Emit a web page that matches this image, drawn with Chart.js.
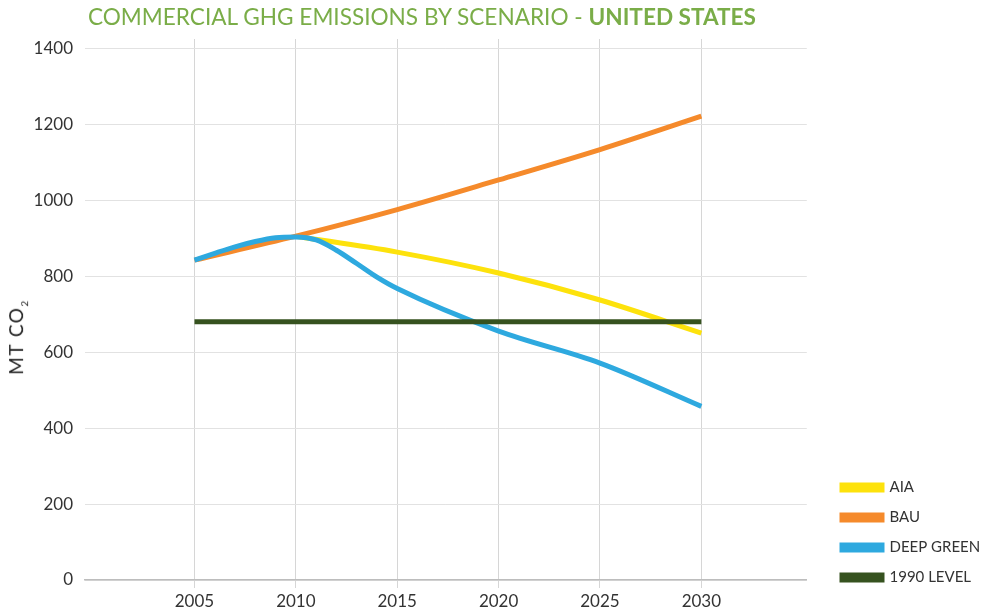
<!DOCTYPE html>
<html lang="en">
<head>
    <meta charset="UTF-8">
    <title>Commercial GHG Emissions by Scenario</title>
    <style>
        body {
            margin: 0;
            background: #fff;
            font-family: Lato, Arial, sans-serif;
        }
        #wrap {
            position: relative;
            width: 991px;
            height: 612px;
        }
        #title {
            position: absolute;
            left: 88px;
            top: 3px;
            font-size: 22.6px;
            color: #7aad48;
            white-space: nowrap;
        }
        #title b {
            font-weight: 700;
        }
        #ytitle {
            position: absolute;
            left: 17px;
            top: 337px;
            transform: translate(-50%, -50%) rotate(-90deg);
            font-size: 19px;
            letter-spacing: 1.5px;
            color: #222;
            white-space: nowrap;
        }
        #ytitle sub {
            font-size: 10px;
        }
        canvas {
            position: absolute;
            left: 0;
            top: 0;
        }
    </style>
</head>
<body>
    <div id="wrap">
        <canvas id="myChart" width="991" height="612"></canvas>
        <div id="title">COMMERCIAL GHG EMISSIONS BY SCENARIO - <b>UNITED STATES</b></div>
        <div id="ytitle">MT CO<sub>2</sub></div>
    </div>

    <script src="https://cdn.jsdelivr.net/npm/chart.js"></script>
    <script>
        // values (MT CO2)
        const xTicks = [2005, 2010, 2015, 2020, 2025, 2030];
        const yTicks = [0, 200, 400, 600, 800, 1000, 1200, 1400];

        const aiaYears = [2010, 2015, 2020, 2025, 2030];
        const aiaValues = [905, 863, 808, 737, 650];

        const bauYears = [2005, 2010, 2015, 2020, 2025, 2030];
        const bauValues = [842, 905, 975, 1053, 1133, 1221];

        const greenYears = [2005, 2006, 2007, 2008, 2009, 2010, 2011, 2012, 2013, 2014, 2015, 2020, 2025, 2030];
        const greenValues = [842, 860, 877, 891, 901, 903, 895, 868, 833, 797, 767, 655, 571, 457];

        const levelYears = [2005, 2030];
        const levelValues = [680, 680];

        function points(xs, ys) {
            return xs.map((x, i) => ({ x: x, y: ys[i] }));
        }

        function line(label, xs, ys, color, order) {
            return {
                label: label,
                data: points(xs, ys),
                borderColor: color,
                backgroundColor: color,
                borderWidth: 5,
                pointRadius: 0,
                tension: 0.4,
                cubicInterpolationMode: 'monotone',
                fill: false,
                order: order
            };
        }

        // move the legend block to where it sits in the original
        const legendShift = {
            id: 'legendShift',
            afterLayout(chart) {
                const lg = chart.legend;
                const w = lg.right - lg.left;
                lg.left = 827;
                lg.right = lg.left + w;
                lg.top += 20;
                lg.bottom += 20;
            }
        };

        const ctx = document.getElementById('myChart').getContext('2d');
        const myChart = new Chart(ctx, {
            type: 'line',
            data: {
                datasets: [
                    line('AIA', aiaYears, aiaValues, '#fde20c', 4),
                    line('BAU', bauYears, bauValues, '#f58a2b', 3),
                    line('DEEP GREEN', greenYears, greenValues, '#2ea9df', 2),
                    line('1990 LEVEL', levelYears, levelValues, '#36521f', 1)
                ]
            },
            plugins: [legendShift],
            options: {
                responsive: false,
                animation: false,
                layout: {
                    padding: { top: 39, right: 21, bottom: 0, left: 0 }
                },
                plugins: {
                    tooltip: { enabled: false },
                    legend: {
                        position: 'right',
                        align: 'end',
                        fullSize: false,
                        labels: {
                            boxWidth: 40,
                            boxHeight: 5,
                            padding: 15,
                            color: '#333',
                            font: { family: 'Lato', size: 15 },
                            sort: (a, b) => a.datasetIndex - b.datasetIndex
                        }
                    }
                },
                scales: {
                    x: {
                        type: 'linear',
                        min: 1999.6,
                        max: 2035.2,
                        afterBuildTicks: axis => {
                            axis.ticks = xTicks.map(v => ({ value: v }));
                        },
                        afterFit: axis => {
                            axis.height = 32;
                        },
                        ticks: {
                            color: '#333',
                            padding: 3,
                            font: { family: 'Lato', size: 17 },
                            callback: v => String(v)
                        },
                        grid: {
                            color: '#d6d6d6',
                            tickLength: 8
                        },
                        border: { color: '#bdbdbd', width: 1.5 }
                    },
                    y: {
                        min: 0,
                        max: 1424,
                        afterBuildTicks: axis => {
                            axis.ticks = yTicks.map(v => ({ value: v }));
                        },
                        afterFit: axis => {
                            axis.width = 85;
                        },
                        ticks: {
                            color: '#333',
                            padding: 12,
                            font: { family: 'Lato', size: 17 },
                            callback: v => String(v)
                        },
                        grid: {
                            color: '#e2e2e2',
                            drawTicks: false
                        },
                        border: { display: false }
                    }
                }
            }
        });
    </script>
</body>
</html>
